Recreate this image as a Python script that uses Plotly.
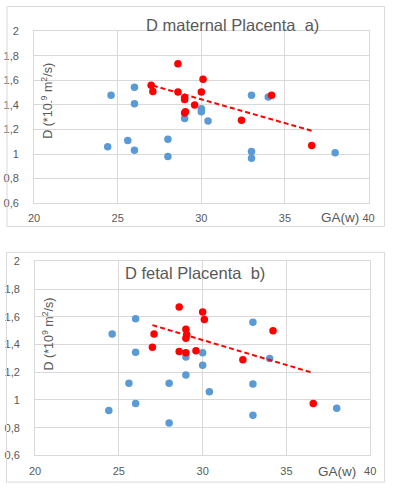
import plotly.graph_objects as go

W, H = 393, 492

# ---- data: chart a) D maternal Placenta ----
a_blue_x = [24.4, 24.6, 25.6, 26, 26, 26, 28, 28, 29, 30, 30, 30.4, 33, 33, 33, 34, 38]
a_blue_y = [1.06, 1.48, 1.11, 1.545, 1.41, 1.03, 1.12, 0.98, 1.29, 1.37, 1.345, 1.27, 1.48, 1.02, 0.965, 1.465, 1.01]
a_red_x = [27, 27.1, 28.6, 28.6, 29, 29, 29, 29.05, 29.6, 30, 30.1, 32.4, 34.2, 36.6]
a_red_y = [1.56, 1.51, 1.735, 1.505, 1.46, 1.445, 1.335, 1.345, 1.40, 1.505, 1.61, 1.275, 1.48, 1.07]
a_trend_x = [27.1, 36.6]
a_trend_y = [1.558, 1.19]

# ---- data: chart b) D fetal Placenta ----
b_blue_x = [24.4, 24.6, 25.6, 26, 26, 26, 28, 28, 29, 29, 30, 30, 30.4, 33, 33, 33, 34, 38]
b_blue_y = [0.925, 1.475, 1.12, 1.585, 1.345, 0.975, 1.12, 0.835, 1.31, 1.18, 1.34, 1.25, 1.06, 1.56, 1.115, 0.89, 1.30, 0.94]
b_red_x = [27, 27.1, 28.6, 28.6, 29, 29.05, 29, 29, 29.6, 30, 30.1, 32.4, 34.2, 36.6]
b_red_y = [1.38, 1.475, 1.67, 1.35, 1.51, 1.47, 1.445, 1.34, 1.355, 1.635, 1.58, 1.29, 1.50, 0.975]
b_trend_x = [27.0, 36.6]
b_trend_y = [1.54, 1.195]

x_ticks = [20, 25, 30, 35, 40]
y_ticks = [0.6, 0.8, 1, 1.2, 1.4, 1.6, 1.8, 2]

BLUE = "#5B9BD5"
RED = "#FF0000"
GRID = "#D9D9D9"
TXT = "#595959"
FONT = "Liberation Sans"

def px(x):
    return x / W

def py(y):
    return 1 - y / H

fig = go.Figure()

for xs, ys, red_x, red_y, tx, ty, xa, ya in [
    (a_blue_x, a_blue_y, a_red_x, a_red_y, a_trend_x, a_trend_y, "x", "y"),
    (b_blue_x, b_blue_y, b_red_x, b_red_y, b_trend_x, b_trend_y, "x2", "y2"),
]:
    fig.add_trace(go.Scatter(x=xs, y=ys, mode="markers", xaxis=xa, yaxis=ya,
                             marker=dict(color=BLUE, size=7.5, line=dict(width=0)),
                             showlegend=False))
    fig.add_trace(go.Scatter(x=tx, y=ty, mode="lines", xaxis=xa, yaxis=ya,
                             line=dict(color=RED, width=2, dash="5px,3px"),
                             showlegend=False))
    fig.add_trace(go.Scatter(x=red_x, y=red_y, mode="markers", xaxis=xa, yaxis=ya,
                             marker=dict(color=RED, size=7.5, line=dict(width=0)),
                             showlegend=False))

xcommon = dict(range=[20, 40], tickvals=x_ticks, showgrid=True, gridcolor=GRID, gridwidth=1,
               zeroline=False, showline=True, linecolor=GRID, linewidth=1, mirror=True,
               tickfont=dict(family=FONT, size=11, color=TXT), ticks="", ticklabelstandoff=5,
               fixedrange=True)
ycommon = dict(range=[0.6, 2], tickvals=y_ticks, showgrid=True, gridcolor=GRID, gridwidth=1,
               zeroline=False, showline=True, linecolor=GRID, linewidth=1, mirror=True,
               tickfont=dict(family=FONT, size=11, color=TXT), ticks="", ticklabelstandoff=12,
               fixedrange=True)

fig.update_layout(
    width=W, height=H,
    margin=dict(l=0, r=0, t=0, b=0),
    paper_bgcolor="white", plot_bgcolor="white",
    separators=", ",
    hovermode=False,
    xaxis=dict(domain=[px(29), px(374)], anchor="y", **xcommon),
    yaxis=dict(domain=[py(202), py(26)], anchor="x", **ycommon),
    xaxis2=dict(domain=[px(30), px(375.7)], anchor="y2", **xcommon),
    yaxis2=dict(domain=[py(460.7), py(261.7)], anchor="x2", **ycommon),
    shapes=[
        dict(type="rect", xref="paper", yref="paper", x0=px(1), x1=px(390.5), y0=py(226), y1=py(0.5),
             line=dict(color=GRID, width=1)),
        dict(type="rect", xref="paper", yref="paper", x0=px(0.5), x1=px(390.5), y0=py(488), y1=py(252.5),
             line=dict(color=GRID, width=1)),
    ],
    annotations=[
        dict(text="D maternal Placenta\u00a0\u00a0a)", xref="paper", yref="paper",
             x=px(234), y=py(19.5), xanchor="center", yanchor="middle", showarrow=False,
             font=dict(family=FONT, size=16.5, color=TXT)),
        dict(text="D fetal Placenta\u00a0\u00a0b)", xref="paper", yref="paper",
             x=px(194.5), y=py(274), xanchor="center", yanchor="middle", showarrow=False,
             font=dict(family=FONT, size=16.5, color=TXT)),
        dict(text="D (*10<sub>-</sub><sup>9</sup> m<sup>2</sup>/s)", xref="paper", yref="paper",
             x=px(43), y=py(97.5), xanchor="center", yanchor="middle", showarrow=False, textangle=-90,
             font=dict(family=FONT, size=12.5, color=TXT)),
        dict(text="D (*10<sup>9</sup> m<sup>2</sup>/s)", xref="paper", yref="paper",
             x=px(43), y=py(336), xanchor="center", yanchor="middle", showarrow=False, textangle=-90,
             font=dict(family=FONT, size=12.5, color=TXT)),
        dict(text="GA(w)", xref="paper", yref="paper",
             x=px(345), y=py(216.5), xanchor="center", yanchor="middle", showarrow=False,
             font=dict(family=FONT, size=13.5, color=TXT)),
        dict(text="GA(w)", xref="paper", yref="paper",
             x=px(341), y=py(477), xanchor="center", yanchor="middle", showarrow=False,
             font=dict(family=FONT, size=13.5, color=TXT)),
    ],
)

fig.write_html("out.html", config={"displayModeBar": False},
               post_script="document.body.style.margin='0';document.body.style.overflow='hidden';")
